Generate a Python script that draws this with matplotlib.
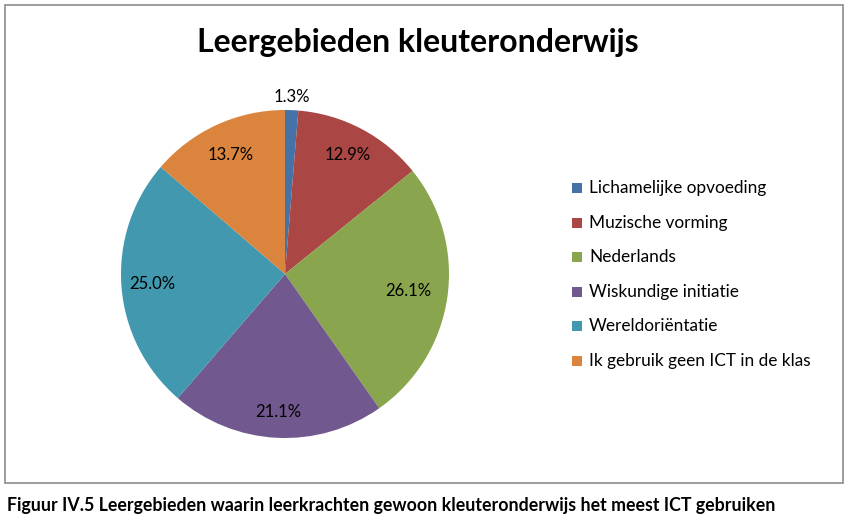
import matplotlib
matplotlib.use("Agg")
import matplotlib.pyplot as plt
from matplotlib.patches import Rectangle
import numpy as np

# data
categories = ["Lichamelijke opvoeding", "Muzische vorming", "Nederlands",
              "Wiskundige initiatie", "Wereldoriëntatie",
              "Ik gebruik geen ICT in de klas"]
shares = [1.3, 12.9, 26.1, 21.1, 25.0, 13.7]
colors = ["#4572A7", "#AA4643", "#89A54E", "#71588F", "#4198AF", "#DB843D"]

plt.rcParams['font.family'] = ['Lato', 'DejaVu Sans']

W, H = 852, 524
fig = plt.figure(figsize=(W / 100, H / 100), dpi=100)

# outer chart frame
fig.patches.append(Rectangle((5 / W, 1 - 483 / H), 838 / W, 478 / H,
                             transform=fig.transFigure, fill=False,
                             edgecolor="#8c8c8c", linewidth=1.2))

fig.text(418 / W, 1 - 43 / H, "Leergebieden kleuteronderwijs",
         ha="center", va="center", fontsize=23, fontweight="bold")

# pie axes: centre (285, 274), radius 164 px
cx, cy, r = 285, 274, 164
ax = fig.add_axes([(cx - r) / W, 1 - (cy + r) / H, 2 * r / W, 2 * r / H])
wedges, _ = ax.pie(shares, colors=colors, startangle=90, counterclock=False,
                   wedgeprops=dict(linewidth=0))
ax.set_xlim(-1, 1)
ax.set_ylim(-1, 1)

dists = [1.08, 0.82, 0.76, 0.84, 0.81, 0.80]
for w, v, d in zip(wedges, shares, dists):
    ang = np.deg2rad((w.theta1 + w.theta2) / 2)
    ax.text(d * np.cos(ang), d * np.sin(ang), f"{v:.1f}%",
            ha="center", va="center", fontsize=12, clip_on=False)

# legend
for i, (c, lab) in enumerate(zip(colors, categories)):
    y = 188 + i * 34.6
    fig.patches.append(Rectangle((572 / W, 1 - (y + 5) / H), 10 / W, 10 / H,
                                 transform=fig.transFigure, facecolor=c,
                                 edgecolor="none"))
    fig.text(589 / W, 1 - y / H, lab, ha="left", va="center", fontsize=12.4)

fig.text(7 / W, 1 - 506 / H,
         "Figuur IV.5 Leergebieden waarin leerkrachten gewoon kleuteronderwijs het meest ICT gebruiken",
         ha="left", va="center", fontsize=12.8, fontweight="bold")

fig.savefig("out.png", dpi=100)
